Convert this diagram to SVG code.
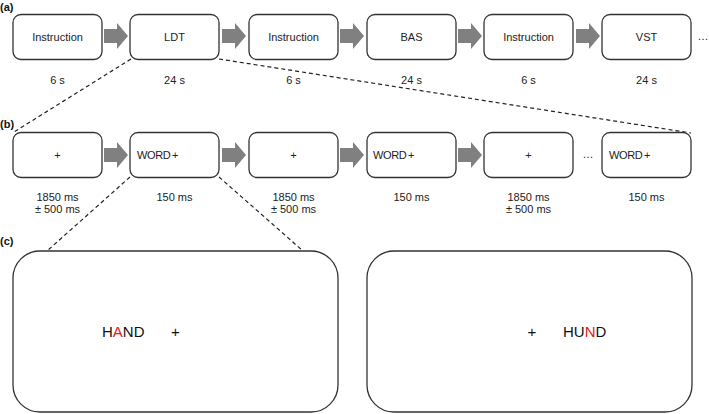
<svg xmlns="http://www.w3.org/2000/svg" width="709" height="414" viewBox="0 0 709 414">
<defs>
<path id="arr" d="M0,-7 H13 V-13 L24,0 L13,13 V7 H0 Z" fill="#808080"/>
</defs>
<style>
.box{fill:#fff;stroke:#333;stroke-width:1.3}
.t{font-family:"Liberation Sans",Arial,sans-serif;font-size:11px;fill:#222}
.m{text-anchor:middle}
.lab{font-family:"Liberation Sans",Arial,sans-serif;font-size:11px;font-weight:bold;fill:#111}
.big{font-family:"Liberation Sans",Arial,sans-serif;font-size:15px;fill:#111}
.dash{stroke:#222;stroke-width:1.2;stroke-dasharray:4 3;fill:none}
</style>
<rect width="709" height="414" fill="#fff"/>
<text class="lab" x="0" y="11">(a)</text>
<text class="lab" x="0" y="128">(b)</text>
<text class="lab" x="0" y="245">(c)</text>
<g id="connectors">
<line class="dash" x1="131" y1="59" x2="14" y2="132"/>
<line class="dash" x1="219" y1="59" x2="691" y2="133"/>
<line class="dash" x1="130" y1="177" x2="47" y2="251"/>
<line class="dash" x1="219" y1="177" x2="303" y2="251"/>
<use href="#arr" x="104" y="36"/>
<use href="#arr" x="222" y="36"/>
<use href="#arr" x="340" y="36"/>
<use href="#arr" x="458" y="36"/>
<use href="#arr" x="576" y="36"/>
<use href="#arr" x="104" y="155"/>
<use href="#arr" x="222" y="155"/>
<use href="#arr" x="340" y="155"/>
<use href="#arr" x="458" y="155"/>
</g>
<g id="a1"><rect class="box" x="13" y="14.5" width="89" height="45" rx="8"/><text class="t m" x="57.5" y="41">Instruction</text><text class="t m" x="57.5" y="84">6 s</text></g>
<g id="a2"><rect class="box" x="130" y="14.5" width="89" height="45" rx="8"/><text class="t m" x="174.5" y="41">LDT</text><text class="t m" x="174.5" y="84">24 s</text></g>
<g id="a3"><rect class="box" x="249" y="14.5" width="89" height="45" rx="8"/><text class="t m" x="293.5" y="41">Instruction</text><text class="t m" x="293.5" y="84">6 s</text></g>
<g id="a4"><rect class="box" x="367" y="14.5" width="89" height="45" rx="8"/><text class="t m" x="411.5" y="41">BAS</text><text class="t m" x="411.5" y="84">24 s</text></g>
<g id="a5"><rect class="box" x="484" y="14.5" width="89" height="45" rx="8"/><text class="t m" x="528.5" y="41">Instruction</text><text class="t m" x="528.5" y="84">6 s</text></g>
<g id="a6"><rect class="box" x="602" y="14.5" width="89" height="45" rx="8"/><text class="t m" x="646.5" y="41">VST</text><text class="t m" x="646.5" y="84">24 s</text></g>
<text class="t m" x="703" y="40" fill="#888">…</text>
<g id="b1"><rect class="box" x="13" y="132.5" width="89" height="45" rx="8"/><text class="t m" x="57.5" y="159" font-size="9">+</text><text class="t m" x="57.5" y="201">1850 ms</text><text class="t m" x="57.5" y="213">± 500 ms</text></g>
<g id="b2"><rect class="box" x="130" y="132.5" width="89" height="45" rx="8"/><text class="t" x="137" y="159" letter-spacing="-0.4">WORD</text><text class="t" x="172" y="159" font-size="9">+</text><text class="t m" x="174.5" y="201">150 ms</text></g>
<g id="b3"><rect class="box" x="249" y="132.5" width="89" height="45" rx="8"/><text class="t m" x="293.5" y="159" font-size="9">+</text><text class="t m" x="293.5" y="201">1850 ms</text><text class="t m" x="293.5" y="213">± 500 ms</text></g>
<g id="b4"><rect class="box" x="367" y="132.5" width="89" height="45" rx="8"/><text class="t" x="373" y="159" letter-spacing="-0.4">WORD</text><text class="t" x="408" y="159" font-size="9">+</text><text class="t m" x="411.5" y="201">150 ms</text></g>
<g id="b5"><rect class="box" x="484" y="132.5" width="89" height="45" rx="8"/><text class="t m" x="528.5" y="159" font-size="9">+</text><text class="t m" x="528.5" y="201">1850 ms</text><text class="t m" x="528.5" y="213">± 500 ms</text></g>
<text class="t m" x="588" y="158" fill="#888">…</text>
<g id="b6"><rect class="box" x="602" y="132.5" width="89" height="45" rx="8"/><text class="t" x="609" y="159" letter-spacing="-0.4">WORD</text><text class="t" x="644" y="159" font-size="9">+</text><text class="t m" x="646.5" y="201">150 ms</text></g>
<g id="c1"><rect class="box" x="13" y="251" width="325" height="161" rx="27"/><text class="big" x="102" y="337">H<tspan fill="#e02020">A</tspan>ND</text><text class="big m" x="175.5" y="337">+</text></g>
<g id="c2"><rect class="box" x="367" y="251" width="325" height="161" rx="27"/><text class="big m" x="532" y="337">+</text><text class="big" x="563" y="337">HU<tspan fill="#e02020">N</tspan>D</text></g>
</svg>
